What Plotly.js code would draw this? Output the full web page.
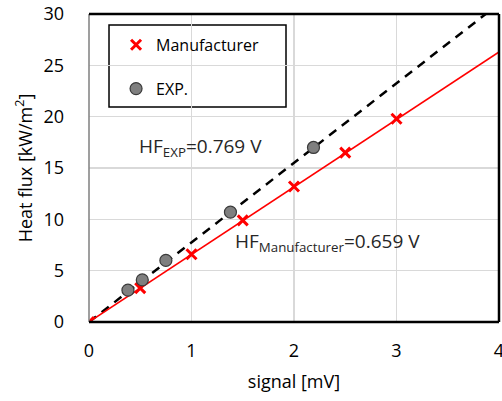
<!DOCTYPE html>
<html>
<head>
<meta charset="utf-8">
<script src="https://cdn.plot.ly/plotly-3.0.1.min.js"></script>
<style>html,body{margin:0;padding:0;background:#fff;}#chart{width:502px;height:401px;}</style>
</head>
<body>
<div id="chart"></div>
<script>
// Manufacturer calibration points
const manufX = [0, 0.5, 1, 1.5, 2, 2.5, 3];
const manufY = [0, 3.3, 6.6, 9.9, 13.2, 16.5, 19.8];
// Experimental points
const expX = [0.38, 0.52, 0.75, 1.38, 2.19];
const expY = [3.1, 4.1, 6.0, 10.7, 17.0];
// Trend lines
const manufLineX = [0, 4];
const manufLineY = [0, 26.3];
const expLineX = [0, 4];
const expLineY = [0, 31.0];
const xTicks = [0, 1, 2, 3, 4];
const yTicks = [0, 5, 10, 15, 20, 25, 30];

const FONT = '"Open Sans", sans-serif';

const traces = [
  {x: expLineX, y: expLineY, mode: 'lines', showlegend: false, hoverinfo: 'skip',
   line: {color: '#000000', width: 2.5, dash: '9px,7px'}},
  {x: manufLineX, y: manufLineY, mode: 'lines', showlegend: false, hoverinfo: 'skip',
   line: {color: '#ff0000', width: 1.5}},
  {x: manufX, y: manufY, mode: 'markers', name: 'Manufacturer', legendgroup: 'a',
   marker: {symbol: 'x-thin', size: 10, color: '#ff0000', line: {color: '#ff0000', width: 3}}},
  {x: expX, y: expY, mode: 'markers', name: 'EXP.', legendgroup: 'b',
   marker: {symbol: 'circle', size: 12, color: '#7f7f7f', line: {color: '#3a3a3a', width: 1.2}}}
];

const layout = {
  width: 502, height: 401,
  margin: {l: 89, r: 3, t: 14, b: 79},
  paper_bgcolor: '#ffffff', plot_bgcolor: '#ffffff',
  font: {family: FONT, size: 17, color: '#000000'},
  showlegend: true,
  legend: {
    x: 0.066, y: 0.955, xanchor: 'left', yanchor: 'top',
    bgcolor: 'rgba(0,0,0,0)', borderwidth: 0,
    font: {family: FONT, size: 16, color: '#000000'},
    tracegroupgap: 20, traceorder: 'grouped', itemwidth: 30
  },
  xaxis: {
    range: [0, 4], tickvals: xTicks, ticktext: xTicks.map(String),
    showgrid: true, gridcolor: '#d9d9d9', gridwidth: 1.5, zeroline: false,
    showline: false, ticks: '', ticklabelstandoff: 16, ticklabeloverflow: 'allow',
    tickfont: {family: FONT, size: 18, color: '#000000'},
    title: {text: 'signal [mV]', font: {family: FONT, size: 18, color: '#000000'}, standoff: 14}
  },
  yaxis: {
    range: [0, 30], tickvals: yTicks, ticktext: yTicks.map(String),
    showgrid: true, gridcolor: '#d9d9d9', gridwidth: 1.5, zeroline: false,
    showline: false, ticks: '', ticklabelstandoff: 24,
    tickfont: {family: FONT, size: 18, color: '#000000'},
    title: {text: 'Heat flux [kW/m<sup>2</sup>]', font: {family: FONT, size: 18, color: '#000000'}, standoff: 6}
  },
  shapes: [
    {type: 'rect', xref: 'paper', yref: 'paper', x0: 0.0488, x1: 0.4805, y0: 0.698, y1: 0.964,
     layer: 'between', fillcolor: '#ffffff', line: {color: '#000000', width: 1.5}},
    {type: 'line', xref: 'paper', yref: 'paper', x0: 0, x1: 0, y0: 0, y1: 1, line: {color: '#7f7f7f', width: 1.5}},
    {type: 'line', xref: 'paper', yref: 'paper', x0: 0, x1: 1, y0: 1, y1: 1, line: {color: '#000000', width: 2.5}},
    {type: 'line', xref: 'paper', yref: 'paper', x0: 1, x1: 1, y0: 0, y1: 1, line: {color: '#000000', width: 2.5}},
    {type: 'line', xref: 'paper', yref: 'paper', x0: 0, x1: 1, y0: 0, y1: 0, line: {color: '#000000', width: 2.5}}
  ],
  annotations: [
    {x: 0.47, y: 17.0, xref: 'x', yref: 'y', xanchor: 'left', yanchor: 'middle', showarrow: false,
     text: 'HF<sub>EXP</sub>=0.769 V', font: {family: FONT, size: 19, color: '#262626'}},
    {x: 1.40, y: 7.8, xref: 'x', yref: 'y', xanchor: 'left', yanchor: 'middle', showarrow: false,
     text: 'HF<sub>Manufacturer</sub>=0.659 V', font: {family: FONT, size: 19, color: '#262626'}}
  ]
};

Plotly.newPlot('chart', traces, layout, {displayModeBar: false, staticPlot: true});
</script>
</body>
</html>
